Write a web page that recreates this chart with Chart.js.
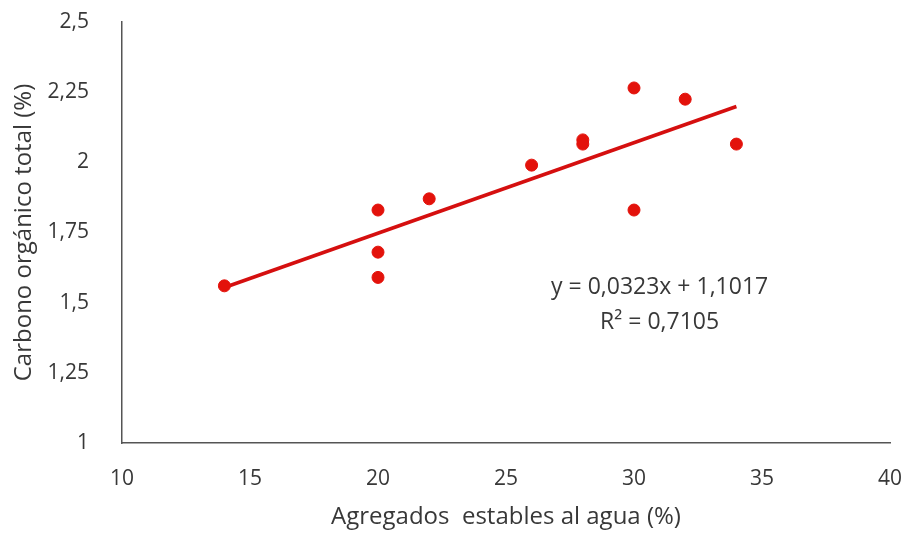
<!DOCTYPE html>
<html>
<head>
<meta charset="utf-8">
<script src="https://cdn.jsdelivr.net/npm/chart.js@4.4.1/dist/chart.umd.min.js"></script>
<style>
  html, body { margin: 0; padding: 0; background: #fff; }
  #wrap { width: 909px; height: 533px; position: relative; }
</style>
</head>
<body>
<div id="wrap"><canvas id="scatterChart"></canvas></div>
<script>
// data
var aggX = [14, 20, 20, 20, 22, 26, 28, 28, 30, 30, 32, 34];
var carbonY = [1.56, 1.83, 1.68, 1.59, 1.87, 1.99, 2.08, 2.065, 2.265, 1.83, 2.225, 2.065];
var trendX = [14, 34];
var trendY = [1.554, 2.199];
var xTicks = [10, 15, 20, 25, 30, 35, 40];
var yTicks = [1, 1.25, 1.5, 1.75, 2, 2.25, 2.5];
var eqLines = ['y = 0,0323x + 1,1017', 'R² = 0,7105'];
var eqAt = { x: 31, y: 1.555 };

var FONT = '"Open Sans", "Liberation Sans", sans-serif';
var TEXT = '#383838';

function fmt(v) { return String(v).replace('.', ','); }

// drop the automatic label overhang so layout.padding sets the plot box
function noPad(s) { s.paddingTop = 0; s.paddingBottom = 0; s.paddingLeft = 0; s.paddingRight = 0; }

var points = aggX.map(function(x, i) { return { x: x, y: carbonY[i] }; });
var trend = trendX.map(function(x, i) { return { x: x, y: trendY[i] }; });

var equationLabel = {
  id: 'equationLabel',
  afterDatasetsDraw: function(chart) {
    var ctx = chart.ctx;
    var px = chart.scales.x.getPixelForValue(eqAt.x);
    var py = chart.scales.y.getPixelForValue(eqAt.y);
    ctx.save();
    ctx.fillStyle = TEXT;
    ctx.font = '23px ' + FONT;
    ctx.textAlign = 'center';
    ctx.textBaseline = 'middle';
    eqLines.forEach(function(t, i) { ctx.fillText(t, px, py + i * 35); });
    ctx.restore();
  }
};

new Chart(document.getElementById('scatterChart'), {
  type: 'scatter',
  data: {
    datasets: [{
      label: 'Carbono',
      data: points,
      backgroundColor: '#e3120b',
      borderColor: '#e3120b',
      pointRadius: 6,
      pointHoverRadius: 6
    }, {
      label: 'Tendencia',
      type: 'line',
      data: trend,
      borderColor: '#d50f0f',
      borderWidth: 3.5,
      pointRadius: 0,
      fill: false
    }]
  },
  options: {
    responsive: true,
    maintainAspectRatio: false,
    animation: false,
    layout: { padding: { top: 22, right: 19, bottom: 0, left: 0 } },
    plugins: { legend: { display: false }, tooltip: { enabled: false } },
    scales: {
      x: {
        type: 'linear',
        min: xTicks[0],
        max: xTicks[xTicks.length - 1],
        afterBuildTicks: function(s) { s.ticks = xTicks.map(function(v) { return { value: v }; }); },
        afterFit: function(s) { s.height = 90; noPad(s); },
        grid: { display: false },
        border: { display: true, color: '#555555', width: 1.5 },
        ticks: { color: TEXT, font: { family: FONT, size: 21 }, padding: 15, maxRotation: 0 },
        title: { display: true, text: 'Agregados  estables al agua (%)', color: TEXT,
                 font: { family: FONT, size: 24 }, padding: { top: 0, bottom: 1 } }
      },
      y: {
        type: 'linear',
        min: yTicks[0],
        max: yTicks[yTicks.length - 1],
        afterBuildTicks: function(s) { s.ticks = yTicks.map(function(v) { return { value: v }; }); },
        afterFit: function(s) { s.width = 122; noPad(s); },
        grid: { display: false },
        border: { display: true, color: '#555555', width: 1.5 },
        ticks: { color: TEXT, font: { family: FONT, size: 21 }, padding: 25,
                 callback: function(v) { return fmt(v); } },
        title: { display: true, text: 'Carbono orgánico total (%)', color: TEXT,
                 font: { family: FONT, size: 24 }, padding: { top: 10, bottom: 0 } }
      }
    }
  },
  plugins: [equationLabel]
});
</script>
</body>
</html>
